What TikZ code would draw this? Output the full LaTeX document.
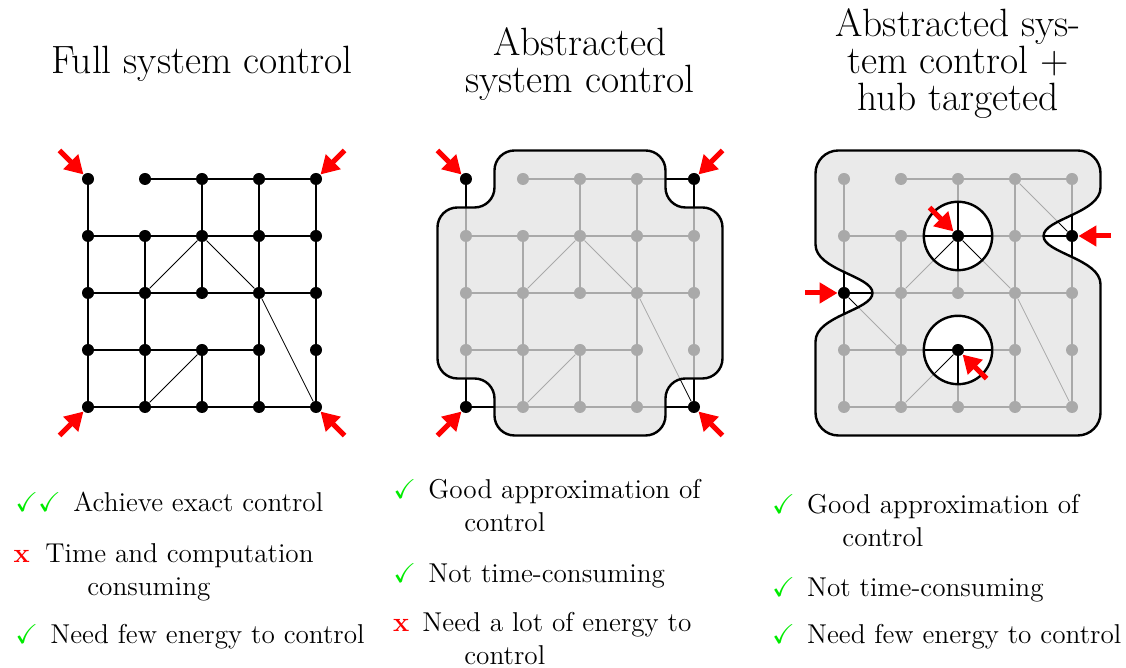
\documentclass[tikz,border=0pt]{standalone}
\usepackage{amssymb}
\usetikzlibrary{arrows.meta}
\definecolor{HitRed}{RGB}{255,0,0}
\definecolor{TickGreen}{RGB}{0,235,0}

\tikzset{
  dot/.style={circle, fill=black, inner sep=0pt, minimum size=6pt},
  link/.style={line width=0.6pt},
  cross/.style={line width=0.4pt},
  region/.style={fill=black!11, fill opacity=0.745, draw=black, line width=1.2pt, even odd rule},
  hit/.style={HitRed, line width=2.5pt, -{Triangle[length=9pt,width=10pt]}},
  heading/.style={font=\fontsize{19.7}{18.5}\selectfont, align=center},
  itemtext/.style={font=\fontsize{13.6}{15}\selectfont, inner sep=0pt, anchor=base west},
}

% 5x5 mesh of named dots plus its links
\newcommand{\meshnodes}[1]{%
  \foreach \i in {0,...,4}
    \foreach \j in {0,...,4}
      \node[dot] (#1-\i-\j) at (\i,-\j) {};
  \foreach \a/\b in {1-0/2-0, 2-0/3-0, 3-0/4-0,
      0-1/1-1, 1-1/2-1, 2-1/3-1, 3-1/4-1,
      0-2/1-2, 1-2/2-2, 2-2/3-2, 3-2/4-2,
      0-3/1-3, 1-3/2-3, 2-3/3-3,
      0-4/1-4, 1-4/2-4, 2-4/3-4, 3-4/4-4,
      0-0/0-1, 0-1/0-2, 0-2/0-3, 0-3/0-4,
      1-1/1-2, 1-2/1-3, 1-3/1-4,
      2-0/2-1, 2-1/2-2, 2-3/2-4,
      3-0/3-1, 3-1/3-2, 3-2/3-3, 3-3/3-4,
      4-0/4-1, 4-1/4-2, 4-2/4-3, 4-3/4-4}
    \draw[link] (#1-\a) -- (#1-\b);
  \foreach \a/\b in {2-1/1-2, 2-1/3-2, 3-2/4-4, 2-3/1-4}
    \draw[cross] (#1-\a) -- (#1-\b);
}

\begin{document}
\begin{tikzpicture}
  \useasboundingbox (0,0) rectangle (19.754,-11.719);

  % panel 1: full control
  \begin{scope}[shift={(1.544,-3.140)}]
    \node[heading] (title-full) at (2,2.018) {Full system control};
    \meshnodes{full}
    \foreach \n/\dx/\dy in {0-0/-0.5/0.5, 4-0/0.5/0.5, 0-4/-0.5/-0.5, 4-4/0.5/-0.5}
      \draw[hit] ([shift={(\dx,\dy)}]full-\n.center) -- (full-\n);
  \end{scope}

  % panel 2: abstracted
  \begin{scope}[shift={(8.175,-3.140)}]
    \node[heading] (title-abs) at (2,2.018) {Abstracted\\system control};
    \meshnodes{abs}
    \draw[region, rounded corners=0.35cm] (2,0.5) -- (3.5,0.5) -- (3.5,-0.5) -- (4.5,-0.5)
      -- (4.5,-3.5) -- (3.5,-3.5) -- (3.5,-4.5) -- (0.5,-4.5) -- (0.5,-3.5)
      -- (-0.5,-3.5) -- (-0.5,-0.5) -- (0.5,-0.5) -- (0.5,0.5) -- cycle;
    \foreach \n/\dx/\dy in {0-0/-0.5/0.5, 4-0/0.5/0.5, 0-4/-0.5/-0.5, 4-4/0.5/-0.5}
      \draw[hit] ([shift={(\dx,\dy)}]abs-\n.center) -- (abs-\n);
  \end{scope}

  % panel 3: abstracted + hubs
  \begin{scope}[shift={(14.807,-3.140)}]
    \node[heading] (title-hub) at (2,2.018) {Abstracted sys-\\tem control +\\hub targeted};
    \meshnodes{hub}
    \draw[cross] (hub-3-0) -- (hub-4-1);
    \draw[cross] (hub-0-2) -- (hub-1-3);
    \draw[region] (2,0.5) -- (4.1,0.5) arc[start angle=90, end angle=0, radius=0.4]
      -- (4.5,-0.15) .. controls (4.5,-0.6) and (3.5,-0.7) .. (3.5,-1)
      .. controls (3.5,-1.3) and (4.5,-1.4) .. (4.5,-1.85)
      -- (4.5,-4.1) arc[start angle=0, end angle=-90, radius=0.4]
      -- (-0.1,-4.5) arc[start angle=270, end angle=180, radius=0.4]
      -- (-0.5,-2.85) .. controls (-0.5,-2.4) and (0.5,-2.3) .. (0.5,-2)
      .. controls (0.5,-1.7) and (-0.5,-1.6) .. (-0.5,-1.15)
      -- (-0.5,0.1) arc[start angle=180, end angle=90, radius=0.4] -- cycle
      (2,-1) circle[radius=0.6] (2,-3) circle[radius=0.6];
    \foreach \n/\dx/\dy in {0-2/-0.68/0, 4-1/0.68/0, 2-1/-0.5/0.5, 2-3/0.5/-0.5}
      \draw[hit] ([shift={(\dx,\dy)}]hub-\n.center) -- (hub-\n);
  \end{scope}

  % pros and cons
  \node[itemtext] (tick-full-1) at (0.263,-8.982) {\textcolor{TickGreen}{$\checkmark\checkmark$}};
  \node[itemtext] (text-full-1) at (1.281,-8.982) {Achieve exact control};
  \node[itemtext] (cross-full-2) at (0.234,-9.860) {\textcolor{HitRed}{\textbf{x}}};
  \node[itemtext] (text-full-2) at (0.789,-9.860) {Time and computation};
  \node[itemtext] (more-full-2) at (1.526,-10.439) {consuming};
  \node[itemtext] (tick-full-3) at (0.263,-11.298) {\textcolor{TickGreen}{$\checkmark$}};
  \node[itemtext] (text-full-3) at (0.877,-11.298) {Need few energy to control};

  \node[itemtext] (tick-abs-1) at (6.895,-8.737) {\textcolor{TickGreen}{$\checkmark$}};
  \node[itemtext] (text-abs-1) at (7.509,-8.737) {Good approximation of};
  \node[itemtext] (more-abs-1) at (8.140,-9.333) {control};
  \node[itemtext] (tick-abs-2) at (6.895,-10.211) {\textcolor{TickGreen}{$\checkmark$}};
  \node[itemtext] (text-abs-2) at (7.509,-10.211) {Not time-consuming};
  \node[itemtext] (cross-abs-3) at (6.889,-11.070) {\textcolor{HitRed}{\textbf{x}}};
  \node[itemtext] (text-abs-3) at (7.404,-11.070) {Need a lot of energy to};
  \node[itemtext] (more-abs-3) at (8.140,-11.649) {control};

  \node[itemtext] (tick-hub-1) at (13.538,-9.000) {\textcolor{TickGreen}{$\checkmark$}};
  \node[itemtext] (text-hub-1) at (14.152,-9.000) {Good approximation of};
  \node[itemtext] (more-hub-1) at (14.772,-9.579) {control};
  \node[itemtext] (tick-hub-2) at (13.538,-10.456) {\textcolor{TickGreen}{$\checkmark$}};
  \node[itemtext] (text-hub-2) at (14.152,-10.456) {Not time-consuming};
  \node[itemtext] (tick-hub-3) at (13.538,-11.298) {\textcolor{TickGreen}{$\checkmark$}};
  \node[itemtext] (text-hub-3) at (14.152,-11.298) {Need few energy to control};
\end{tikzpicture}
\end{document}
